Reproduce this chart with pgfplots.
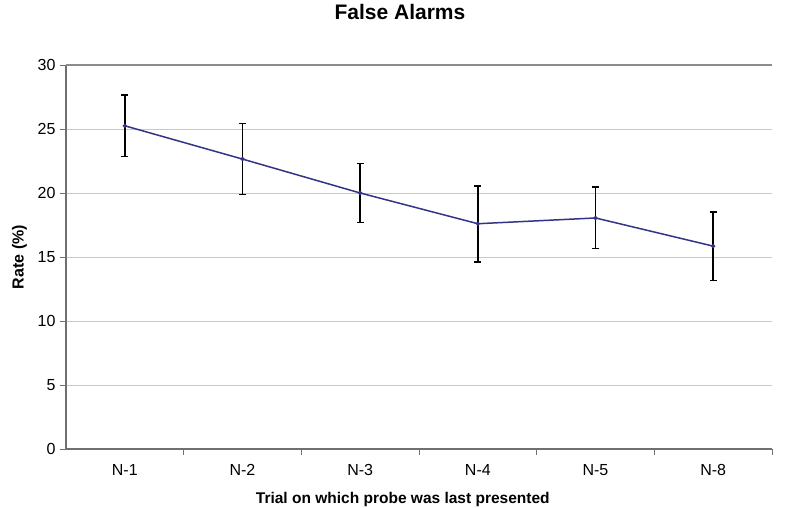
\documentclass[border=0pt]{standalone}
\usepackage{fontspec}
\setmainfont{Liberation Sans}
\usepackage{pgfplots}
\pgfplotsset{compat=1.18}
\definecolor{lineblue}{HTML}{333388}
\definecolor{gridgray}{HTML}{C8C8C8}
\definecolor{axisgray}{HTML}{707070}
\definecolor{bordergray}{HTML}{8C8C8C}
\begin{document}
\begin{tikzpicture}[x=1pt,y=1pt]
\useasboundingbox (0,0) rectangle (802,507);
\begin{axis}[
  at={(66pt,58pt)}, anchor=south west,
  scale only axis, width=706pt, height=384pt,
  xmin=-0.5, xmax=5.5, ymin=0, ymax=30,
  axis x line*=bottom, axis y line*=left,
  axis line style={axisgray, line width=1.2pt},
  xtick={0,1,2,3,4,5},
  xticklabels={N-1,N-2,N-3,N-4,N-5,N-8},
  major x tick style={draw=none},
  minor xtick={0.5,1.5,2.5,3.5,4.5,5.5},
  minor x tick style={axisgray, line width=0.8pt},
  minor tick length=6pt,
  xtick align=outside,
  ytick={0,5,...,30},
  ytick align=outside,
  major tick length=6pt,
  y tick style={axisgray, line width=0.8pt},
  ymajorgrids, grid style={gridgray, line width=1pt},
  tick label style={font=\fontsize{16}{18}\selectfont},
  /pgf/number format/assume math mode=true,
  yticklabel style={xshift=-1pt},
  xticklabel style={yshift=-6pt},
  title={False Alarms},
  title style={font=\fontsize{21}{23}\selectfont\bfseries, at={(axis description cs:0.473,1.1016)}, anchor=base},
  xlabel={Trial on which probe was last presented},
  xlabel style={font=\fontsize{15.5}{18}\selectfont\bfseries, at={(axis description cs:0.477,-0.1430)}, anchor=base},
  ylabel={Rate (\%)},
  ylabel style={font=\fontsize{16}{18}\selectfont\bfseries, at={(axis description cs:-0.066,0.5)}, anchor=center},
  clip=false,
]
\draw[bordergray, line width=1.2pt] (rel axis cs:0,1) -- (rel axis cs:1,1);
\addplot[lineblue, line width=1.5pt, mark=*, mark size=1.3pt, mark options={lineblue},
  error bars/.cd, y dir=both, y explicit,
  error bar style={black, line width=1.6pt},
  error mark options={rotate=90, black, mark size=3.5pt, line width=1.6pt}]
coordinates {
  (0,25.25) +- (0,2.40)
  (1,22.65) +- (0,2.77)
  (2,20.00) +- (0,2.30)
  (3,17.60) +- (0,2.97)
  (4,18.05) +- (0,2.40)
  (5,15.85) +- (0,2.67)
};
\end{axis}
\end{tikzpicture}
\end{document}
